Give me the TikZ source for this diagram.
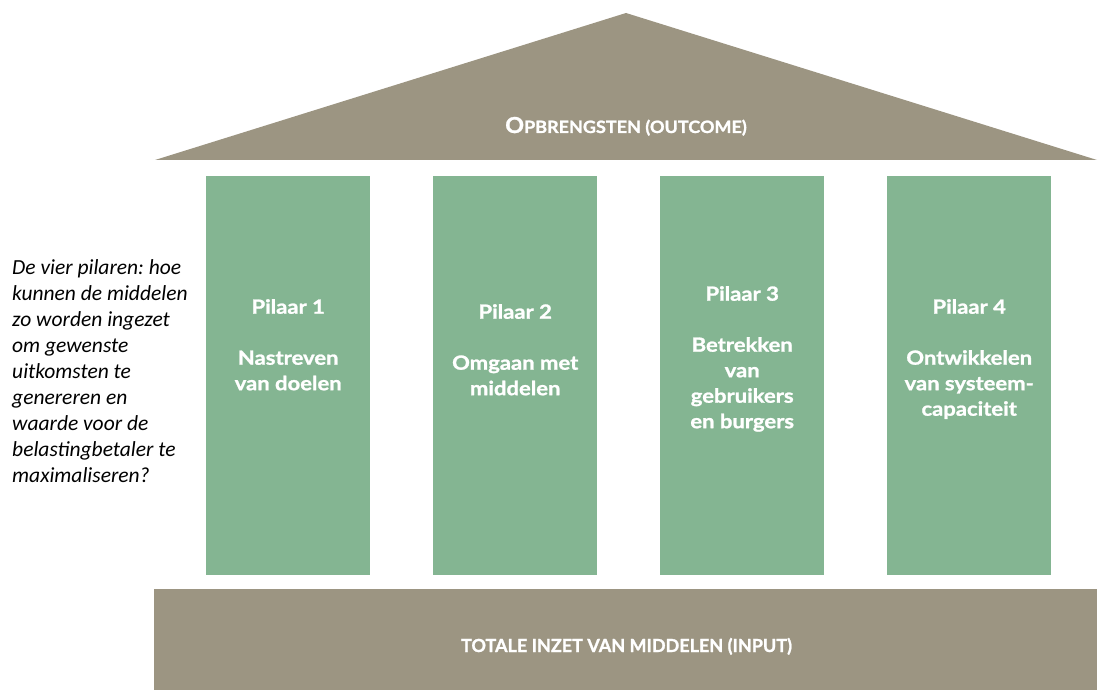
\documentclass[tikz,border=0pt]{standalone}
\usepackage{fontspec}
\setmainfont{Lato}
\newfontfamily\pfont{Lato}[BoldFeatures={FakeBold=1.3,FakeStretch=1.13}]
\newfontfamily\rfont{Lato}[BoldFeatures={FakeBold=1.3,FakeStretch=1.06}]
\newfontfamily\bfont{Lato}[BoldFeatures={FakeBold=1.3}]
\newfontfamily\leftfont{Carlito}
\definecolor{roofc}{HTML}{9C9582}
\definecolor{pillc}{HTML}{84B592}
\frenchspacing
\begin{document}
\begin{tikzpicture}[x=1pt,y=-1pt,
  pillar/.style={fill=pillc,draw=none,minimum width=164pt,minimum height=399pt,inner sep=0pt,anchor=north west},
  ptext/.style={text=white,font=\pfont\bfseries\fontsize{19.5}{25.5}\selectfont,align=center,anchor=north,inner sep=0pt},
  captext/.style={text=white,inner sep=0pt}]
\useasboundingbox (0,0) rectangle (1098,690);
% roof
\fill[roofc] (155,160) -- (626,13) -- (1097,160) -- cycle;
\node[captext,anchor=base,font=\rfont\bfseries] (rooftext) at (626,133) {\fontsize{22}{22}\selectfont O\fontsize{17}{17}\selectfont PBRENGSTEN (OUTCOME)};
% base
\node[fill=roofc,minimum width=943pt,minimum height=101pt,inner sep=0pt,anchor=north west] (base) at (154,589) {};
\node[captext,anchor=base,font=\bfont\bfseries\fontsize{18}{18}\selectfont] (basetext) at (626.5,652) {TOTALE INZET VAN MIDDELEN (INPUT)};
% pillars
\node[pillar] (p1) at (206,176) {};
\node[pillar] (p2) at (433,176) {};
\node[pillar] (p3) at (660,176) {};
\node[pillar] (p4) at (887,176) {};
\node[ptext] (t1) at ([yshift=-123pt]p1.north) {Pilaar 1\\[25.5pt]Nastreven\\van doelen};
\node[ptext] (t2) at ([yshift=-128pt]p2.north) {Pilaar 2\\[25.5pt]Omgaan met\\middelen};
\node[ptext] (t3) at ([yshift=-110pt]p3.north) {Pilaar 3\\[25.5pt]Betrekken\\van\\gebruikers\\en burgers};
\node[ptext] (t4) at ([yshift=-123pt]p4.north) {Pilaar 4\\[25.5pt]Ontwikkelen\\van systeem-\\capaciteit};
% left text
\node[anchor=north west,inner sep=0pt,align=left,font=\leftfont\itshape\fontsize{21.5}{26}\selectfont] (lefttext) at (12,259)
  {De vier pilaren: hoe\\kunnen de middelen\\zo worden ingezet\\om gewenste\\uitkomsten te\\genereren en\\waarde voor de\\belastingbetaler te\\maximaliseren?};
\end{tikzpicture}
\end{document}
